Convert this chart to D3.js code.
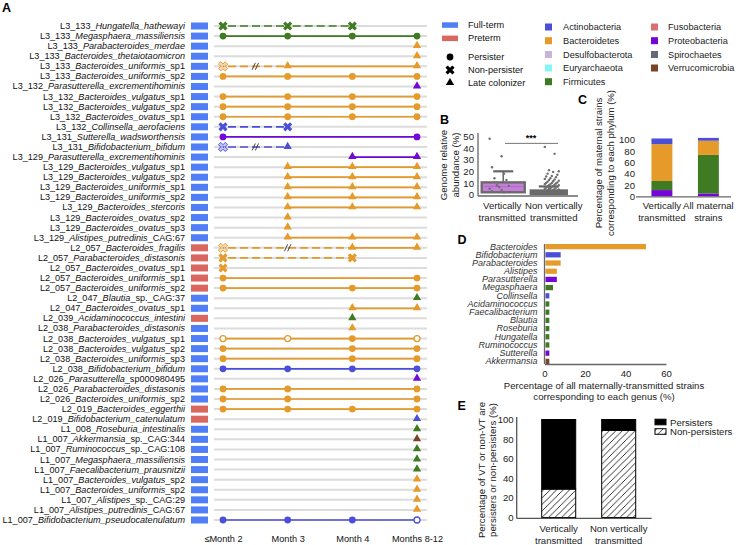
<!DOCTYPE html>
<html><head><meta charset="utf-8">
<script src="https://cdn.jsdelivr.net/npm/d3@7"></script>
<style>body{margin:0;background:#fff} svg{font-family:"Liberation Sans",Arial,sans-serif}</style>
</head><body><svg id="c" width="740" height="545"></svg>
<script>
// ---------------- DATA ----------------
const months = ["≤Month 2","Month 3","Month 4","Months 8-12"];
const rowIds = ["L3_133","L3_133","L3_133","L3_133","L3_133","L3_133","L3_132","L3_132","L3_132","L3_132","L3_132","L3_131","L3_131",
 "L3_129","L3_129","L3_129","L3_129","L3_129","L3_129","L3_129","L3_129","L3_129",
 "L2_057","L2_057","L2_057","L2_057","L2_057","L2_047","L2_047","L2_039","L2_038","L2_038","L2_038","L2_038","L2_038",
 "L2_026","L2_026","L2_026","L2_019","L2_019","L1_008",
 "L1_007","L1_007","L1_007","L1_007","L1_007","L1_007","L1_007","L1_007","L1_007"];
const rowTaxa = ["Hungatella_hathewayi","Megasphaera_massiliensis","Parabacteroides_merdae","Bacteroides_thetaiotaomicron","Bacteroides_uniformis","Bacteroides_uniformis",
 "Parasutterella_excrementihominis","Bacteroides_vulgatus","Bacteroides_vulgatus","Bacteroides_ovatus","Collinsella_aerofaciens","Sutterella_wadsworthensis","Bifidobacterium_bifidum",
 "Parasutterella_excrementihominis","Bacteroides_vulgatus","Bacteroides_vulgatus","Bacteroides_uniformis","Bacteroides_uniformis","Bacteroides_stercoris","Bacteroides_ovatus","Bacteroides_ovatus","Alistipes_putredinis",
 "Bacteroides_fragilis","Parabacteroides_distasonis","Bacteroides_ovatus","Bacteroides_uniformis","Bacteroides_uniformis","Blautia","Bacteroides_ovatus","Acidaminococcus_intestini",
 "Parabacteroides_distasonis","Bacteroides_vulgatus","Bacteroides_vulgatus","Bacteroides_uniformis","Bifidobacterium_bifidum",
 "Parasutterella","Parabacteroides_distasonis","Bacteroides_uniformis","Bacteroides_eggerthii","Bifidobacterium_catenulatum","Roseburia_intestinalis",
 "Akkermansia","Ruminococcus","Megasphaera_massiliensis","Faecalibacterium_prausnitzii","Bacteroides_vulgatus","Bacteroides_uniformis","Alistipes","Alistipes_putredinis","Bifidobacterium_pseudocatenulatum"];
const rowSuffix = ["","","","","_sp1","_sp2","","_sp1","_sp2","_sp1","","","",
 "","_sp1","_sp2","_sp1","_sp2","","_sp2","_sp3","_CAG:67",
 "","","_sp1","_sp1","_sp2","_sp._CAG:37","_sp1","",
 "","_sp1","_sp2","_sp3","",
 "_sp000980495","","_sp2","","","",
 "_sp._CAG:344","_sp._CAG:108","","","_sp2","_sp2","_sp._CAG:29","_CAG:67",""];
// F = full-term, P = preterm
const rowTerm = ["F","F","F","F","F","F","F","F","F","F","F","F","F",
 "F","F","F","F","F","F","F","F","F",
 "P","P","P","P","P","F","F","P","F","F","F","F","F",
 "F","F","F","P","P","F",
 "F","F","F","F","F","F","F","F","F"];
const rowPhylum = ["Firmicutes","Firmicutes","Bacteroidetes","Bacteroidetes","Bacteroidetes","Bacteroidetes","Proteobacteria","Bacteroidetes","Bacteroidetes","Bacteroidetes","Actinobacteria","Proteobacteria","Actinobacteria",
 "Proteobacteria","Bacteroidetes","Bacteroidetes","Bacteroidetes","Bacteroidetes","Bacteroidetes","Bacteroidetes","Bacteroidetes","Bacteroidetes",
 "Bacteroidetes","Bacteroidetes","Bacteroidetes","Bacteroidetes","Bacteroidetes","Firmicutes","Bacteroidetes","Firmicutes",
 "Bacteroidetes","Bacteroidetes","Bacteroidetes","Bacteroidetes","Actinobacteria",
 "Proteobacteria","Bacteroidetes","Bacteroidetes","Bacteroidetes","Actinobacteria","Firmicutes",
 "Verrucomicrobia","Firmicutes","Firmicutes","Firmicutes","Bacteroidetes","Bacteroidetes","Bacteroidetes","Bacteroidetes","Actinobacteria"];
// per timepoint: o persister, c open persister, x non-persister, h non-persister (faded), t late colonizer, . none
const rowMarkers = ["xxx.","oooo","...t","...t","ht.t","oooo","...t","oooo","oooo","oooo","xx..","o..o","ht..",
 "..tt",".ttt",".ttt",".ttt",".ttt",".ttt",".t..",".t..",".ttt",
 "h.tt","x.x.","x...","o..o","o.oo","...t","..tt","..t.",
 "..t.","ccoc","o.oo","o.oo","oooo",
 "...t","oo.o","oo.o","oooo","...t","...t",
 "...t","...t","...t","...t","...t","...t","...t","...t","oooc"];
// segments between consecutive markers: s solid, d dashed, b dashed with break
const rowSegments = ["dd","sss","","","bs","sss","","sss","sss","sss","d","s","b",
 "s","ss","ss","ss","ss","ss","","","ss",
 "bs","d","","s","ss","","s","",
 "","sss","ss","ss","sss",
 "","ss","ss","sss","","",
 "","","","","","","","","sss"];

const phyla = ["Actinobacteria","Bacteroidetes","Desulfobacterota","Euryarchaeota","Firmicutes","Fusobacteria","Proteobacteria","Spirochaetes","Verrucomicrobia"];
const phylumColors = ["#4b4fd8","#e59a2a","#c9b3d8","#84f6f6","#3e7b22","#d77070","#7207d8","#646a7a","#7b4427"];
const termLabels = ["Full-term","Preterm"];
const termColors = ["#4f7ef6","#d9675f"];

// Panel B
const bGroups = ["Vertically\ntransmitted","Non vertically\ntransmitted"];
const bQ1 = [2, 0.6];
const bMedian = [7, 1.6];
const bQ3 = [10.5, 3.5];
const bWhiskerHi = [20, 7];
const bVTPoints = [48, 33, 23.5, 18, 14, 12.5, 8, 7.5, 6.5, 5, 4, 3, 2];
const bNVTPoints = [41, 35, 21, 20, 19.5, 18, 17, 16, 15.5, 15, 14, 13.5, 13, 12.5, 12, 11.5, 11, 10.5, 10, 10, 9.5, 9, 9, 8.5, 8, 8, 7.5, 7, 7, 6.5, 6, 6, 5.5, 5, 5, 4.5, 4.5, 4, 4, 3.8];
const bTicks = [0,10,20,30,40,50];

// Panel C
const cGroups = ["Vertically\ntransmitted","All maternal\nstrains"];
const cStackPhyla = ["Proteobacteria","Firmicutes","Bacteroidetes","Actinobacteria"];
const cProteobacteria = [11, 5];
const cFirmicutes = [16, 68];
const cBacteroidetes = [65, 25];
const cActinobacteria = [10, 5];

// Panel D
const dGenera = ["Bacteroides","Bifidobacterium","Parabacteroides","Alistipes","Parasutterella","Megasphaera","Collinsella","Acidaminococcus","Faecalibacterium","Blautia","Roseburia","Hungatella","Ruminococcus","Sutterella","Akkermansia"];
const dValues = [49.6, 7.5, 7.5, 5.6, 5.6, 3.7, 1.9, 1.9, 1.9, 1.9, 1.9, 1.9, 1.9, 1.9, 1.9];
const dPhylum = ["Bacteroidetes","Actinobacteria","Bacteroidetes","Bacteroidetes","Proteobacteria","Firmicutes","Actinobacteria","Firmicutes","Firmicutes","Firmicutes","Firmicutes","Firmicutes","Firmicutes","Proteobacteria","Verrucomicrobia"];

// Panel E
const eGroups = ["Vertically\ntransmitted","Non vertically\ntransmitted"];
const eNonPersisters = [29, 89];
const ePersisters = [71, 11];

// ---------------- DRAW ----------------
const svg = d3.select("#c");
const FS = "9.2px";
const colorOf = d3.scaleOrdinal(phyla, phylumColors);
const termColor = d3.scaleOrdinal(["F","P"], termColors);

const defs = svg.append("defs");
const hatch = defs.append("pattern").attr("id","hatch").attr("patternUnits","userSpaceOnUse").attr("width",6.5).attr("height",6.5);
hatch.append("rect").attr("width",6.5).attr("height",6.5).attr("fill","#fff");
hatch.append("path").attr("d","M0,6.5 L6.5,0 M-1,1 L1,-1 M5.5,7.5 L7.5,5.5").attr("stroke","#000").attr("stroke-width",0.8);

function panelLabel(t,x,y){svg.append("text").attr("x",x).attr("y",y).text(t).style("font-weight","bold").style("font-size","12.5px");}
function multiline(sel, txt, lh){
  const parts = txt.split("\n");
  parts.forEach((p,i)=>sel.append("tspan").attr("x",sel.attr("x")).attr("dy", i===0? 0 : lh).text(p));
}

// ===== Panel A =====
panelLabel("A",2,11.7);
const rows = rowIds.map((id,i)=>({i,id,taxon:rowTaxa[i],suffix:rowSuffix[i],term:rowTerm[i],phylum:rowPhylum[i],mk:rowMarkers[i],seg:rowSegments[i]}));
const yA = d3.scalePoint().domain(d3.range(rows.length)).range([26,520]);
const xA = d3.scalePoint().domain(months).range([223,417]);
const gA = svg.append("g");

gA.selectAll("line.grid").data(rows).join("line")
  .attr("x1",214).attr("x2",427).attr("y1",d=>yA(d.i)).attr("y2",d=>yA(d.i))
  .attr("stroke","#dcdcdc").attr("stroke-width",2);

const lab = gA.selectAll("text.lab").data(rows).join("text").attr("class","lab")
  .attr("x",185).attr("y",d=>yA(d.i)).attr("text-anchor","end").attr("dominant-baseline","central")
  .style("font-size","9.1px").attr("fill","#111");
lab.append("tspan").text(d=>d.id+"_");
lab.append("tspan").style("font-style","italic").text(d=>d.taxon);
lab.append("tspan").text(d=>d.suffix);

gA.selectAll("rect.term").data(rows).join("rect")
  .attr("x",191).attr("width",17).attr("y",d=>yA(d.i)-3.5).attr("height",7)
  .attr("fill",d=>termColor(d.term));

rows.forEach(r=>{
  const col = colorOf(r.phylum);
  const y = yA(r.i);
  const present = [];
  for(let k=0;k<4;k++) if(r.mk[k]!==".") present.push(k);
  for(let j=0;j<r.seg.length;j++){
    const x1 = xA(months[present[j]]), x2 = xA(months[present[j+1]]);
    const s = r.seg[j];
    const ln = gA.append("line").attr("x1",x1).attr("x2",x2).attr("y1",y).attr("y2",y)
      .attr("stroke",col).attr("stroke-width",1.7);
    if(s!=="s") ln.attr("stroke-dasharray","8,4").attr("stroke-dashoffset",-5);
    if(s==="b"){
      const mx=(x1+x2)/2;
      [-1.6,1.6].forEach(o=>gA.append("line").attr("x1",mx+o-1.6).attr("x2",mx+o+1.6)
        .attr("y1",y+3.5).attr("y2",y-3.5).attr("stroke","#333").attr("stroke-width",0.9));
    }
  }
  present.forEach(k=>{
    const m = r.mk[k], x = xA(months[k]);
    if(m==="o") gA.append("circle").attr("cx",x).attr("cy",y).attr("r",3.4).attr("fill",col);
    else if(m==="c") gA.append("circle").attr("cx",x).attr("cy",y).attr("r",3).attr("fill","#fff").attr("stroke",col).attr("stroke-width",1.3);
    else if(m==="x"||m==="h"){
      const p = gA.append("path").attr("d",d3.symbol(d3.symbolCross,52)()).attr("transform",`translate(${x},${y}) rotate(45)`);
      if(m==="x") p.attr("fill",col);
      else p.attr("fill",col).attr("fill-opacity",0.35).attr("stroke",col).attr("stroke-width",0.9);
    }
    else if(m==="t") gA.append("path").attr("d",d3.symbol(d3.symbolTriangle,30)()).attr("transform",`translate(${x},${y-0.5})`).attr("fill",col);
  });
});

const axA = gA.append("g").attr("transform","translate(0,531.5)").call(d3.axisBottom(xA).tickSize(0).tickPadding(4));
axA.select(".domain").remove();
axA.selectAll("text").style("font-size",FS).style("font-family","Liberation Sans, Arial").attr("fill","#111");

// Legend A
const gL = svg.append("g").style("font-size",FS).attr("fill","#111");
termLabels.forEach((t,i)=>{
  gL.append("rect").attr("x",442).attr("y",[22.3,35.6][i]).attr("width",16).attr("height",5.5).attr("fill",termColors[i]);
  gL.append("text").attr("x",468).attr("y",[25,38.4][i]).attr("dominant-baseline","central").text(t);
});
const shapeLegend = [["Persister",d3.symbolCircle,36,57],["Non-persister",d3.symbolCross,52,70],["Late colonizer",d3.symbolTriangle,30,82.7]];
shapeLegend.forEach(([t,sym,sz,y])=>{
  gL.append("path").attr("d",d3.symbol(sym,sz)()).attr("fill","#000")
    .attr("transform",`translate(450,${y})`+(sym===d3.symbolCross?" rotate(45)":""));
  gL.append("text").attr("x",468).attr("y",y).attr("dominant-baseline","central").text(t);
});
const legY = [27,40.7,54.5,68,81.7];
phyla.forEach((p,i)=>{
  const col = i<5?0:1, r = i<5?i:i-5;
  gL.append("rect").attr("x",[545,651][col]).attr("y",legY[r]-3.5).attr("width",7).attr("height",7).attr("fill",phylumColors[i]);
  gL.append("text").attr("x",[563,668][col]).attr("y",legY[r]).attr("dominant-baseline","central").attr("fill","#222").text(p);
});

// ===== Panel B =====
panelLabel("B",440,124);
const gB = svg.append("g");
const yB = d3.scaleLinear().domain([0,50]).range([194.6,136.4]);
const xB = d3.scalePoint().domain(bGroups).range([478,578]).padding(0.47);
const bw = [43,36];
const axB = gB.append("g").attr("transform","translate(478,0)").call(d3.axisLeft(yB).tickValues(bTicks).tickSize(0).tickPadding(4));
axB.select(".domain").attr("d","M0,196V133").attr("stroke","#666").attr("stroke-width",1.3);
axB.selectAll("text").style("font-size","9.6px").attr("fill","#222");
gB.append("line").attr("x1",478).attr("x2",578).attr("y1",196).attr("y2",196).attr("stroke","#666").attr("stroke-width",1.3);
bGroups.forEach((g,i)=>{
  const cx = xB(g) + (i===1?-5:1);
  gB.append("line").attr("x1",cx).attr("x2",cx).attr("y1",yB(bQ3[i])).attr("y2",yB(bWhiskerHi[i])).attr("stroke","#666").attr("stroke-width",1.5);
  gB.append("line").attr("x1",cx-10).attr("x2",cx+10).attr("y1",yB(bWhiskerHi[i])).attr("y2",yB(bWhiskerHi[i])).attr("stroke","#666").attr("stroke-width",2.2);
  gB.append("rect").attr("x",cx-bw[i]/2).attr("width",bw[i]).attr("y",yB(bQ3[i])).attr("height",yB(bQ1[i])-yB(bQ3[i]))
    .attr("fill",i===0?"#c57fd8":"#6b6b6b").attr("stroke","#6b6b6b").attr("stroke-width",2.4);
  gB.append("line").attr("x1",cx-bw[i]/2+2).attr("x2",cx+bw[i]/2-2).attr("y1",yB(bMedian[i])).attr("y2",yB(bMedian[i])).attr("stroke",i===0?"#b06cc4":"#6b6b6b").attr("stroke-width",1);
  const pts = i===0?bVTPoints:bNVTPoints;
  gB.selectAll(null).data(pts).join("circle")
    .attr("cx",(d,k)=> i===0 ? cx - 4 + ((k*5)%9-4)*2.4 : cx + 3 + ((k*7)%11-5)*1.4)
    .attr("cy",d=>yB(d)).attr("r",1.2).attr("fill","#6e6e6e");
  const t = gB.append("text").attr("x",xB(g)).attr("y",205).attr("text-anchor","middle").attr("dominant-baseline","central").style("font-size","9.6px").attr("fill","#222");
  multiline(t,g,11.5);
});
gB.append("line").attr("x1",505).attr("x2",558).attr("y1",yB(44)).attr("y2",yB(44)).attr("stroke","#777").attr("stroke-width",1);
gB.append("text").attr("x",531).attr("y",yB(44)-2).attr("text-anchor","middle").style("font-size","9px").style("font-weight","bold").text("***");
const tB = gB.append("text").attr("transform","translate(447,165) rotate(-90)").attr("text-anchor","middle").style("font-size","9.6px").attr("fill","#222");
tB.append("tspan").attr("x",0).attr("dy",0).text("Genome relative");
tB.append("tspan").attr("x",0).attr("dy",11.5).text("abundance (%)");

// ===== Panel C =====
panelLabel("C",578,103.5);
const gC = svg.append("g");
const yC = d3.scaleLinear().domain([0,100]).range([196.3,139.6]);
const xC = d3.scaleBand().domain(cGroups).range([637.5,732.8]).paddingInner(0.55).paddingOuter(0.3);
const cTable = cGroups.map((g,i)=>({group:g,Proteobacteria:cProteobacteria[i],Firmicutes:cFirmicutes[i],Bacteroidetes:cBacteroidetes[i],Actinobacteria:cActinobacteria[i]}));
const stackC = d3.stack().keys(cStackPhyla)(cTable);
gC.selectAll("g.s").data(stackC).join("g").attr("fill",d=>colorOf(d.key))
  .selectAll("rect").data(d=>d).join("rect")
  .attr("x",d=>xC(d.data.group)).attr("width",xC.bandwidth())
  .attr("y",d=>yC(d[1])).attr("height",d=>yC(d[0])-yC(d[1]));
const axC = gC.append("g").attr("transform","translate(637,0)").call(d3.axisLeft(yC).ticks(5).tickSize(0).tickPadding(2));
axC.select(".domain").remove();
axC.selectAll("text").style("font-size","9.6px").attr("fill","#222");
gC.append("line").attr("x1",636).attr("x2",731).attr("y1",196.8).attr("y2",196.8).attr("stroke","#666").attr("stroke-width",1.3);
cGroups.forEach(g=>{
  const t = gC.append("text").attr("x",xC(g)+xC.bandwidth()/2).attr("y",205).attr("text-anchor","middle").attr("dominant-baseline","central").style("font-size","9.6px").attr("fill","#222");
  multiline(t,g,11.5);
});
const tC = gC.append("text").attr("transform","translate(602,163) rotate(-90)").attr("text-anchor","middle").style("font-size","9.6px").attr("fill","#222");
tC.append("tspan").attr("x",0).attr("dy",0).text("Percentage of maternal strains");
tC.append("tspan").attr("x",0).attr("dy",12).text("corresponding to each phylum (%)");

// ===== Panel D =====
panelLabel("D",457.5,243.5);
const gD = svg.append("g");
const xD = d3.scaleLinear().domain([0,60]).range([544.5,666]);
const yD = d3.scaleBand().domain(dGenera).range([244,364]).paddingInner(0.36);
gD.selectAll("rect").data(dGenera).join("rect")
  .attr("x",xD(0)+1).attr("y",d=>yD(d)).attr("height",yD.bandwidth())
  .attr("width",(d,i)=>xD(dValues[i])-xD(0)).attr("fill",(d,i)=>colorOf(dPhylum[i]));
const axDy = gD.append("g").attr("transform","translate(544.5,0)").call(d3.axisLeft(yD).tickSize(0).tickPadding(7));
axDy.select(".domain").attr("d","M0,244V364").attr("stroke","#666").attr("stroke-width",1.3);
axDy.selectAll("text").style("font-size","9px").style("font-style","italic").attr("fill","#333");
const axDx = gD.append("g").attr("transform","translate(0,364)").call(d3.axisBottom(xD).tickValues([0,20,40,60]).tickSize(0).tickPadding(6));
axDx.select(".domain").attr("stroke","#666").attr("stroke-width",1.3);
axDx.selectAll("text").style("font-size","9.6px").attr("fill","#222");
const tD = gD.append("text").attr("x",604).attr("y",385).attr("text-anchor","middle").attr("dominant-baseline","central").style("font-size","9.6px").attr("fill","#222");
multiline(tD,"Percentage of all maternally-transmitted strains\ncorresponding to each genus (%)",11);

// ===== Panel E =====
panelLabel("E",457.5,410);
const gE = svg.append("g");
const yE = d3.scaleLinear().domain([0,100]).range([517.5,419.5]);
const xE = d3.scaleBand().domain(eGroups).range([517.7,659.7]).paddingInner(0.433).paddingOuter(0.4);
const eTable = eGroups.map((g,i)=>({group:g,non:eNonPersisters[i],per:ePersisters[i]}));
const stackE = d3.stack().keys(["non","per"])(eTable);
gE.selectAll("g.s").data(stackE).join("g").attr("fill",d=>d.key==="non"?"url(#hatch)":"#000")
  .selectAll("rect").data(d=>d).join("rect")
  .attr("x",d=>xE(d.data.group)).attr("width",xE.bandwidth())
  .attr("y",d=>yE(d[1])).attr("height",d=>yE(d[0])-yE(d[1]))
  .attr("stroke","#000").attr("stroke-width",1);
const axE = gE.append("g").attr("transform","translate(516.7,0)").call(d3.axisLeft(yE).ticks(5).tickSize(0).tickPadding(3));
axE.select(".domain").attr("d","M0,518.3V417").attr("stroke","#555").attr("stroke-width",1.3);
axE.selectAll("text").style("font-size","9.6px").attr("fill","#222");
gE.append("line").attr("x1",516.7).attr("x2",651.7).attr("y1",518.3).attr("y2",518.3).attr("stroke","#555").attr("stroke-width",1.3);
eGroups.forEach(g=>{
  const t = gE.append("text").attr("x",xE(g)+xE.bandwidth()/2).attr("y",527.5).attr("text-anchor","middle").attr("dominant-baseline","central").style("font-size","9.6px").attr("fill","#222");
  multiline(t,g,12);
});
const tE = gE.append("text").attr("transform","translate(484.5,470) rotate(-90)").attr("text-anchor","middle").style("font-size","9.6px").attr("fill","#222");
tE.append("tspan").attr("x",0).attr("dy",0).text("Percentage of VT or non-VT are");
tE.append("tspan").attr("x",0).attr("dy",11.5).text("persisters or non-persisters (%)");
[["Persisters","#000",422],["Non-persisters","url(#hatch)",431.5]].forEach(([t,f,y])=>{
  gE.append("rect").attr("x",655).attr("y",y-2.8).attr("width",11).attr("height",5.6).attr("fill",f).attr("stroke","#000").attr("stroke-width",1);
  gE.append("text").attr("x",670).attr("y",y).attr("dominant-baseline","central").style("font-size","9.6px").attr("fill","#222").text(t);
});
</script></body></html>
